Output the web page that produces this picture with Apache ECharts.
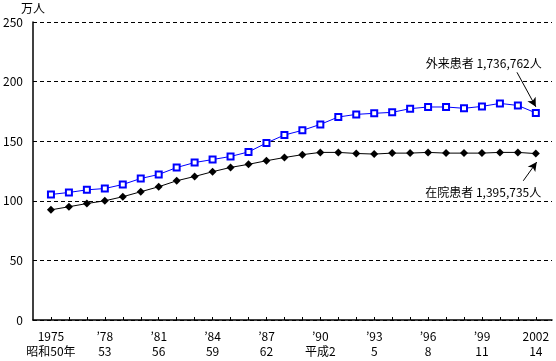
<!DOCTYPE html>
<html>
<head>
<meta charset="utf-8">
<script src="https://cdn.jsdelivr.net/npm/echarts@6/dist/echarts.min.js"></script>
<style>html,body{margin:0;padding:0;background:#fff}#c{width:556px;height:361px}</style>
</head>
<body>
<div id="c"></div>
<script>
const years = [1975,1976,1977,1978,1979,1980,1981,1982,1983,1984,1985,1986,1987,1988,1989,1990,1991,1992,1993,1994,1995,1996,1997,1998,1999,2000,2001,2002];
const outpatient = [105.3,107,109.2,110.3,113.7,118.7,122.1,127.9,132.1,134.6,137.2,141,148.5,155.2,159.1,164.1,170.3,172.5,173.4,174.2,177.3,178.7,178.7,177.6,179.2,181.7,180,173.7];
const inpatient = [92.4,95,97.7,100,103.4,107.6,111.8,116.8,120.4,124.4,128,130.6,133.6,136.3,138.7,140.6,140.6,139.7,139.2,140,140,140.6,140,140,140,140.6,140.6,139.6];
const labelYears = [1975,1978,1981,1984,1987,1990,1993,1996,1999,2002];
const labelLine1 = ['1975','’78','’81','’84','’87','’90','’93','’96','’99','2002'];
const labelLine2 = ['昭和50年','53','56','59','62','平成2','5','8','11','14'];
const outLabel = '外来患者 1,736,762人';
const inLabel = '在院患者 1,395,735人';

const FONT = '"Noto Sans CJK JP", "DejaVu Sans", sans-serif';
const chart = echarts.init(document.getElementById('c'), null, {renderer:'canvas'});
const toPairs = v => years.map((y,i)=>[y,v[i]]);

chart.setOption({
  animation:false,
  backgroundColor:'#fff',
  grid:{left:33,right:4,top:22,bottom:41},
  xAxis:{
    type:'value', min:1974, max:2002.9,
    axisLine:{lineStyle:{color:'#000',width:1.5}},
    axisTick:{show:true,inside:true,length:3,lineStyle:{color:'#000'},customValues:years},
    splitLine:{show:false},
    axisLabel:{
      customValues:labelYears,
      color:'#000',fontSize:12,fontFamily:FONT,lineHeight:15,margin:9,
      formatter:function(v){const i=labelYears.indexOf(Math.round(v));return i<0?'':labelLine1[i]+'\n'+labelLine2[i];}
    }
  },
  yAxis:{
    type:'value', min:0, max:250, interval:50,
    name:'万人', nameLocation:'end', nameGap:8,
    nameTextStyle:{color:'#000',fontSize:12,fontFamily:FONT,align:'center'},
    axisLine:{show:true,lineStyle:{color:'#000',width:1.5}},
    axisTick:{show:false},
    splitLine:{show:true,lineStyle:{color:'#000',type:[4,3],width:1}},
    axisLabel:{color:'#000',fontSize:12,fontFamily:FONT,margin:10}
  },
  series:[
    {
      name:'外来患者', type:'line', data:toPairs(outpatient),
      symbol:'emptyRect', symbolSize:6,
      lineStyle:{color:'#0000ff',width:1},
      itemStyle:{color:'#0000ff',borderWidth:1.2},
      markLine:{
        silent:true, symbol:['none','arrow'], symbolSize:[7,9],
        lineStyle:{color:'#000',width:1,type:'solid'}, label:{show:false},
        data:[[{coord:[2000.95,207.8]},{coord:[2002.0,178.8]}]]
      },
      markPoint:{
        symbol:'circle', symbolSize:0,
        label:{show:true,color:'#000',fontSize:12,fontFamily:FONT,formatter:outLabel},
        data:[{coord:[1999.1,215.2],value:0}]
      }
    },
    {
      name:'在院患者', type:'line', data:toPairs(inpatient),
      symbol:'diamond', symbolSize:8,
      lineStyle:{color:'#000',width:1},
      itemStyle:{color:'#000'},
      markLine:{
        silent:true, symbol:['none','arrow'], symbolSize:[7,9],
        lineStyle:{color:'#000',width:1,type:'solid'}, label:{show:false},
        data:[[{coord:[2001.3,116.8]},{coord:[2002.05,132.5]}]]
      },
      markPoint:{
        symbol:'circle', symbolSize:0,
        label:{show:true,color:'#000',fontSize:12,fontFamily:FONT,formatter:inLabel},
        data:[{coord:[1999.07,107],value:0}]
      }
    }
  ]
});
</script>
</body>
</html>
